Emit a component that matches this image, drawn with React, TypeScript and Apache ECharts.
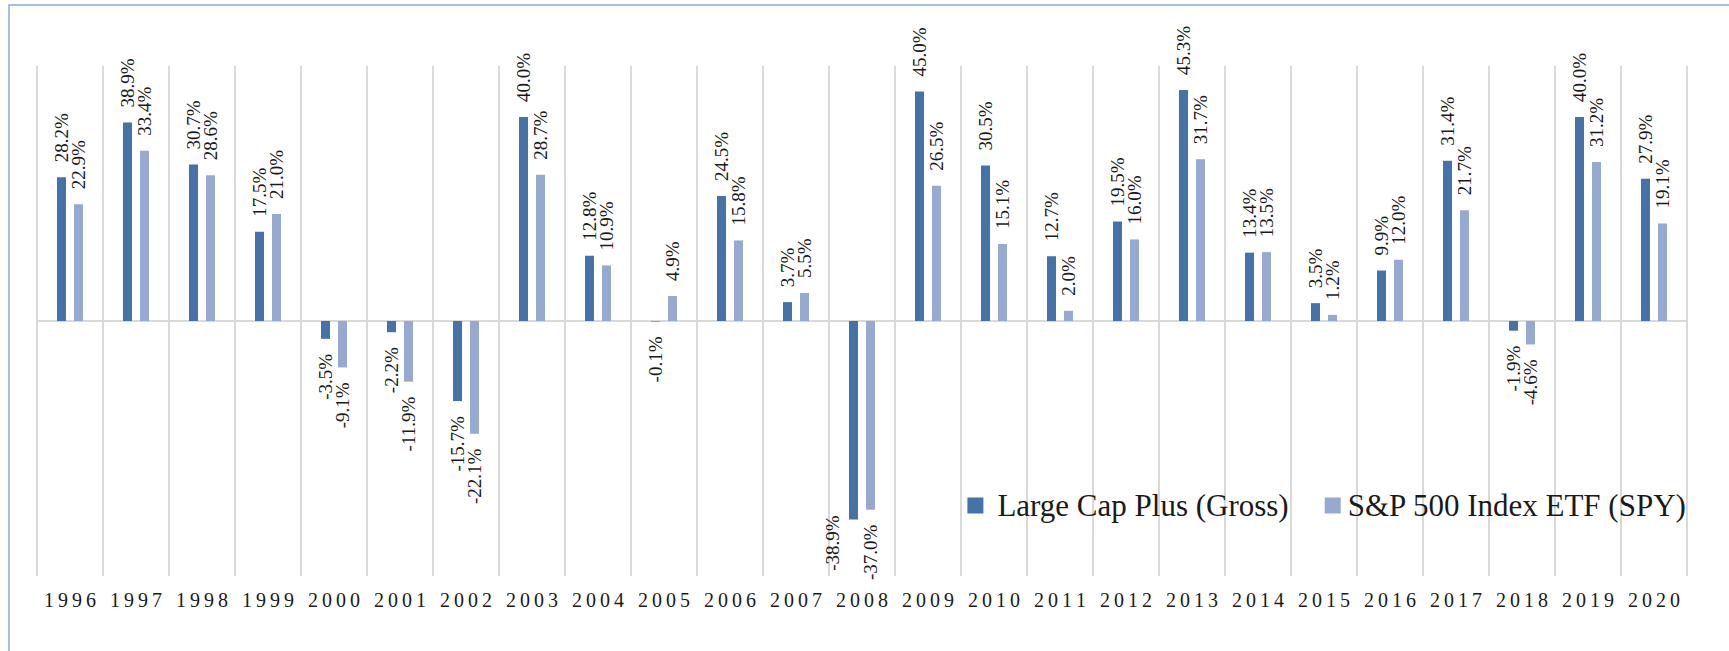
import React, { useEffect, useRef } from "react";
import * as echarts from "echarts";

const years = [
  "1996", "1997", "1998", "1999", "2000", "2001", "2002", "2003", "2004", "2005",
  "2006", "2007", "2008", "2009", "2010", "2011", "2012", "2013", "2014", "2015",
  "2016", "2017", "2018", "2019", "2020",
];

const largeCapPlus = [
  28.2, 38.9, 30.7, 17.5, -3.5, -2.2, -15.7, 40.0, 12.8, -0.1,
  24.5, 3.7, -38.9, 45.0, 30.5, 12.7, 19.5, 45.3, 13.4, 3.5,
  9.9, 31.4, -1.9, 40.0, 27.9,
];

const spy = [
  22.9, 33.4, 28.6, 21.0, -9.1, -11.9, -22.1, 28.7, 10.9, 4.9,
  15.8, 5.5, -37.0, 26.5, 15.1, 2.0, 16.0, 31.7, 13.5, 1.2,
  12.0, 21.7, -4.6, 31.2, 19.1,
];

const seriesNames = ["Large Cap Plus (Gross)", "S&P 500 Index ETF (SPY)"];
const yMin = -50;
const yMax = 50;

const FONT = "Liberation Serif";
const DARK = "#4572A7";
const LIGHT = "#95A9D1";
const GRID = "#D9D9D9";

function buildData(values: number[], shifted: Record<string, number[]>) {
  return values.map((v, i) => {
    const base: any =
      v < 0
        ? { position: "bottom", align: "right", verticalAlign: "middle" }
        : { position: "top", align: "left", verticalAlign: "middle" };
    const off = shifted[years[i]];
    if (off) base.offset = off;
    return { value: v, label: base };
  });
}

export default function App() {
  const ref = useRef<HTMLDivElement>(null);

  useEffect(() => {
    if (!ref.current) return;
    const chart = echarts.init(ref.current, null, { renderer: "svg" });

    const labelCommon = {
      show: true,
      rotate: 90,
      distance: 15,
      fontSize: 19,
      fontFamily: FONT,
      color: "#1a1a1a",
      formatter: (p: any) => Number(p.value).toFixed(1) + "%",
    };

    chart.setOption({
      animation: false,
      backgroundColor: "#ffffff",
      graphic: [
        {
          type: "rect",
          x: 9,
          y: 5,
          shape: { x: 0, y: 0, width: 1800, height: 800 },
          style: { fill: "none", stroke: "#8AABD9", lineWidth: 1.5 },
          silent: true,
          z: -1,
        },
      ],
      grid: { left: 37, right: 42, top: 66, bottom: 75 },
      legend: {
        right: 37,
        top: 485,
        itemWidth: 16,
        itemHeight: 16,
        itemGap: 36,
        icon: "rect",
        textStyle: {
          fontSize: 31,
          lineHeight: 31,
          fontFamily: FONT,
          color: "#1a1a1a",
        },
        data: [
          { name: seriesNames[0], textStyle: { padding: [0, 0, 0, 9] } },
          { name: seriesNames[1], textStyle: { padding: [0, 0, 0, 2] } },
        ],
      },
      xAxis: {
        type: "category",
        data: years,
        axisLine: { show: false, onZero: false },
        axisTick: { show: false },
        splitLine: {
          show: true,
          interval: 0,
          lineStyle: { color: GRID, width: 2 },
        },
        axisLabel: {
          interval: 0,
          margin: 14,
          fontSize: 20,
          fontFamily: FONT,
          color: "#1a1a1a",
          formatter: (v: string) => v.split("").join("\u2009"),
        },
      },
      yAxis: {
        type: "value",
        min: yMin,
        max: yMax,
        interval: 50,
        axisLabel: { show: false },
        axisLine: { show: false },
        axisTick: { show: false },
        splitLine: {
          show: true,
          lineStyle: {
            color: ["rgba(0,0,0,0)", GRID, "rgba(0,0,0,0)"],
            width: 2,
          },
        },
      },
      series: [
        {
          name: seriesNames[0],
          type: "bar",
          barWidth: 9,
          barGap: "89%",
          itemStyle: { color: DARK },
          label: labelCommon,
          data: buildData(largeCapPlus, { "2008": [19, -21] }),
        },
        {
          name: seriesNames[1],
          type: "bar",
          barWidth: 9,
          barGap: "89%",
          itemStyle: { color: LIGHT },
          label: labelCommon,
          data: buildData(spy, {}),
        },
      ],
    });

    return () => chart.dispose();
  }, []);

  return (
    <div
      ref={ref}
      style={{ position: "absolute", left: 0, top: 0, width: 1729, height: 651 }}
    />
  );
}
